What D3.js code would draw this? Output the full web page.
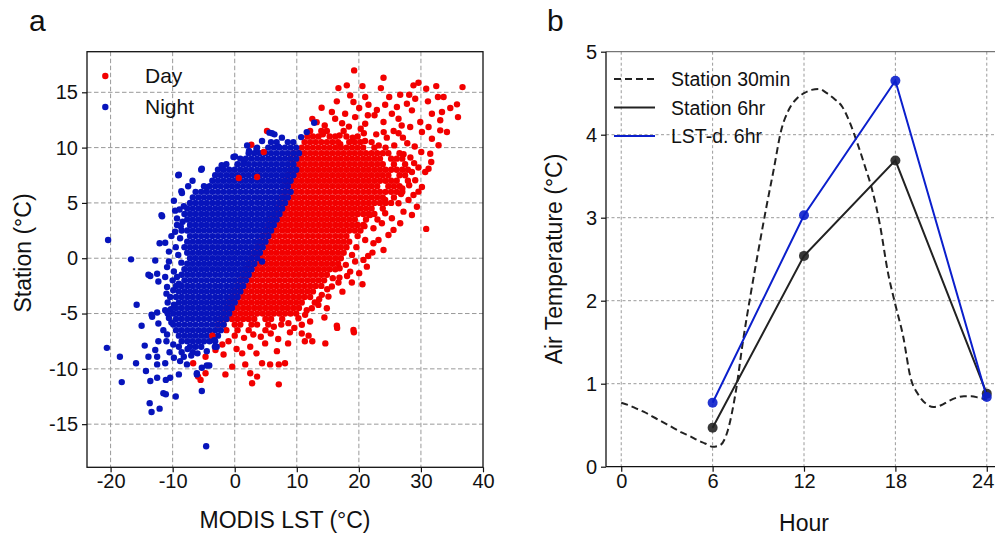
<!DOCTYPE html>
<html>
<head>
<meta charset="utf-8">
<script src="https://cdn.jsdelivr.net/npm/d3@7"></script>
<style>
  body { margin: 0; background: #fff; }
  svg { display: block; font-family: "Liberation Sans", Arial, Helvetica, sans-serif; }
</style>
</head>
<body>
<div id="chart"></div>
<script>
// ---------- panel a : MODIS LST vs station ----------
// dense cores, one row per station value: [station, [lst, lst, ...]]
const nightCoreRows = [
  [10.5,[5.85,6.75,8.55,9.45]],
  [10,[3.6,5.4,6.3,7.2,8.1,9.0,9.9]],
  [9.5,[2.25,3.15,4.05,4.95,5.85,6.75,7.65,8.55,9.45,10.35]],
  [9,[0.9,1.8,2.7,3.6,4.5,5.4,6.3,7.2,8.1,9.0,9.9]],
  [8.5,[-1.35,0.45,1.35,2.25,3.15,4.05,4.95,5.85,6.75,7.65,8.55,9.45]],
  [8,[-2.7,-1.8,-0.9,0,0.9,1.8,2.7,3.6,4.5,5.4,6.3,7.2,8.1,9.0,9.9]],
  [7.5,[-3.15,-2.25,-1.35,-0.45,0.45,1.35,2.25,3.15,4.05,4.95,5.85,6.75,7.65,8.55,9.45]],
  [7,[-3.6,-2.7,-1.8,-0.9,0,0.9,1.8,2.7,3.6,4.5,5.4,6.3,7.2,8.1,9.0]],
  [6.5,[-4.95,-4.05,-3.15,-2.25,-1.35,-0.45,0.45,1.35,2.25,3.15,4.05,4.95,5.85,6.75,7.65,8.55]],
  [6,[-6.3,-5.4,-4.5,-3.6,-2.7,-1.8,-0.9,0,0.9,1.8,2.7,3.6,4.5,5.4,6.3,7.2,8.1,9.0]],
  [5.5,[-6.75,-5.85,-4.95,-4.05,-3.15,-2.25,-1.35,-0.45,0.45,1.35,2.25,3.15,4.05,4.95,5.85,6.75,7.65,8.55]],
  [5,[-7.2,-6.3,-5.4,-4.5,-3.6,-2.7,-1.8,-0.9,0,0.9,1.8,2.7,3.6,4.5,5.4,6.3,7.2,8.1]],
  [4.5,[-7.65,-6.75,-5.85,-4.95,-4.05,-3.15,-2.25,-1.35,-0.45,0.45,1.35,2.25,3.15,4.05,4.95,5.85,6.75,7.65]],
  [4,[-8.1,-7.2,-6.3,-5.4,-4.5,-3.6,-2.7,-1.8,-0.9,0,0.9,1.8,2.7,3.6,4.5,5.4,6.3,7.2]],
  [3.5,[-7.65,-6.75,-5.85,-4.95,-4.05,-3.15,-2.25,-1.35,-0.45,0.45,1.35,2.25,3.15,4.05,4.95,5.85,6.75]],
  [3,[-7.2,-6.3,-5.4,-4.5,-3.6,-2.7,-1.8,-0.9,0,0.9,1.8,2.7,3.6,4.5,5.4,6.3]],
  [2.5,[-8.55,-7.65,-6.75,-5.85,-4.95,-4.05,-3.15,-2.25,-1.35,-0.45,0.45,1.35,2.25,3.15,4.05,4.95,5.85]],
  [2,[-7.2,-6.3,-5.4,-4.5,-3.6,-2.7,-1.8,-0.9,0,0.9,1.8,2.7,3.6,4.5,5.4]],
  [1.5,[-7.65,-6.75,-5.85,-4.95,-4.05,-3.15,-2.25,-1.35,-0.45,0.45,1.35,2.25,3.15,4.05,4.95]],
  [1,[-8.1,-7.2,-6.3,-5.4,-4.5,-3.6,-2.7,-1.8,-0.9,0,0.9,1.8,2.7,3.6,4.5]],
  [0.5,[-7.65,-6.75,-5.85,-4.95,-4.05,-3.15,-2.25,-1.35,-0.45,0.45,1.35,2.25,3.15,4.05]],
  [0,[-7.2,-6.3,-5.4,-4.5,-3.6,-2.7,-1.8,-0.9,0,0.9,1.8,2.7,3.6]],
  [-0.5,[-7.65,-6.75,-5.85,-4.95,-4.05,-3.15,-2.25,-1.35,-0.45,0.45,1.35,2.25,3.15]],
  [-1,[-8.1,-7.2,-6.3,-5.4,-4.5,-3.6,-2.7,-1.8,-0.9,0,0.9,1.8,2.7]],
  [-1.5,[-8.55,-7.65,-6.75,-5.85,-4.95,-4.05,-3.15,-2.25,-1.35,-0.45,0.45,1.35,2.25]],
  [-2,[-8.1,-7.2,-6.3,-5.4,-4.5,-3.6,-2.7,-1.8,-0.9,0,0.9,1.8]],
  [-2.5,[-9.45,-8.55,-7.65,-6.75,-5.85,-4.95,-4.05,-3.15,-2.25,-1.35,-0.45,0.45,1.35]],
  [-3,[-9.0,-8.1,-7.2,-6.3,-5.4,-4.5,-3.6,-2.7,-1.8,-0.9,0,0.9]],
  [-3.5,[-9.45,-8.55,-7.65,-6.75,-5.85,-4.95,-4.05,-3.15,-2.25,-1.35,-0.45,0.45]],
  [-4,[-9.0,-8.1,-7.2,-6.3,-5.4,-4.5,-3.6,-2.7,-1.8,-0.9,0]],
  [-4.5,[-9.45,-8.55,-7.65,-6.75,-5.85,-4.95,-4.05,-3.15,-2.25,-1.35,-0.45]],
  [-5,[-9.9,-9.0,-8.1,-7.2,-6.3,-5.4,-4.5,-3.6,-2.7,-1.8,-0.9]],
  [-5.5,[-9.45,-8.55,-7.65,-6.75,-5.85,-4.95,-4.05,-3.15,-2.25,-1.35]],
  [-6,[-9.9,-9.0,-8.1,-7.2,-6.3,-5.4,-4.5,-3.6,-2.7,-1.8]],
  [-6.5,[-9.45,-8.55,-7.65,-6.75,-5.85,-4.95,-4.05,-3.15,-2.25]],
  [-7,[-9.0,-8.1,-7.2,-6.3,-5.4,-4.5,-3.6,-2.7]],
  [-7.5,[-8.55,-7.65,-6.75,-5.85,-4.95,-4.05,-3.15]],
  [-8,[-9.0,-7.2,-6.3,-5.4]],
  [-8.5,[-8.55,-6.75]]
];

const dayCoreRows = [
  [11.5,[12.15,13.95,14.85,17.55]],
  [11,[11.7,12.6,13.5,15.3,16.2,18.0,19.8]],
  [10.5,[11.25,12.15,13.05,13.95,14.85,15.75,16.65,18.45,19.35,20.25,22.05]],
  [10,[10.8,11.7,12.6,13.5,14.4,15.3,16.2,17.1,18.0,18.9,19.8,20.7,22.5,24.3]],
  [9.5,[9.45,10.35,11.25,12.15,13.05,13.95,14.85,15.75,16.65,17.55,18.45,19.35,20.25,21.15,22.05,22.95,23.85,24.75,26.55]],
  [9,[9.0,9.9,10.8,11.7,12.6,13.5,14.4,15.3,16.2,17.1,18.0,18.9,19.8,20.7,21.6,22.5,23.4,25.2,26.1,27.0]],
  [8.5,[9.45,10.35,11.25,12.15,13.05,13.95,14.85,15.75,16.65,17.55,18.45,19.35,20.25,21.15,22.05,22.95,23.85,25.65,27.45]],
  [8,[9.0,9.9,10.8,11.7,12.6,13.5,14.4,15.3,16.2,17.1,18.0,18.9,19.8,20.7,21.6,22.5,23.4,24.3,25.2,26.1,27.0,27.9]],
  [7.5,[8.55,9.45,10.35,11.25,12.15,13.05,13.95,14.85,15.75,16.65,17.55,18.45,19.35,20.25,21.15,22.05,22.95,23.85,24.75,26.55,27.45]],
  [7,[8.1,9.0,9.9,10.8,11.7,12.6,13.5,14.4,15.3,16.2,17.1,18.0,18.9,19.8,20.7,21.6,22.5,23.4,24.3,25.2,26.1,27.9]],
  [6.5,[8.55,9.45,10.35,11.25,12.15,13.05,13.95,14.85,15.75,16.65,17.55,18.45,19.35,20.25,21.15,22.05,22.95,24.75,25.65,26.55]],
  [6,[8.1,9.0,9.9,10.8,11.7,12.6,13.5,14.4,15.3,16.2,17.1,18.0,18.9,19.8,20.7,21.6,22.5,23.4,24.3,25.2,26.1,27.0]],
  [5.5,[7.65,8.55,9.45,10.35,11.25,12.15,13.05,13.95,14.85,15.75,16.65,17.55,18.45,19.35,20.25,21.15,22.05,22.95,23.85,25.65]],
  [5,[7.2,8.1,9.0,9.9,10.8,11.7,12.6,13.5,14.4,15.3,16.2,17.1,18.0,18.9,19.8,20.7,21.6,22.5,23.4,24.3,25.2]],
  [4.5,[6.75,7.65,8.55,9.45,10.35,11.25,12.15,13.05,13.95,14.85,15.75,16.65,17.55,18.45,19.35,20.25,21.15,22.05,23.85]],
  [4,[6.3,7.2,8.1,9.0,9.9,10.8,11.7,12.6,13.5,14.4,15.3,16.2,17.1,18.0,18.9,19.8,20.7,21.6,22.5]],
  [3.5,[5.85,6.75,7.65,8.55,9.45,10.35,11.25,12.15,13.05,13.95,14.85,15.75,16.65,17.55,18.45,19.35,21.15]],
  [3,[5.4,6.3,7.2,8.1,9.0,9.9,10.8,11.7,12.6,13.5,14.4,15.3,16.2,17.1,18.0,18.9,19.8,20.7]],
  [2.5,[4.95,5.85,6.75,7.65,8.55,9.45,10.35,11.25,12.15,13.05,13.95,14.85,15.75,16.65,17.55,18.45,19.35,20.25]],
  [2,[4.5,5.4,6.3,7.2,8.1,9.0,9.9,10.8,11.7,12.6,13.5,14.4,15.3,16.2,17.1,18.0,19.8]],
  [1.5,[4.05,4.95,5.85,6.75,7.65,8.55,9.45,10.35,11.25,12.15,13.05,13.95,14.85,15.75,16.65,17.55,18.45]],
  [1,[3.6,4.5,5.4,6.3,7.2,8.1,9.0,9.9,10.8,11.7,12.6,13.5,14.4,15.3,16.2,17.1,18.0]],
  [0.5,[3.15,4.05,4.95,5.85,6.75,7.65,8.55,9.45,10.35,11.25,12.15,13.05,13.95,14.85,15.75,16.65,17.55]],
  [0,[2.7,3.6,4.5,5.4,6.3,7.2,8.1,9.0,9.9,10.8,11.7,12.6,13.5,14.4,15.3,16.2,17.1]],
  [-0.5,[2.25,3.15,4.05,4.95,5.85,6.75,7.65,8.55,9.45,10.35,11.25,12.15,13.05,13.95,14.85,15.75,16.65]],
  [-1,[1.8,2.7,3.6,4.5,5.4,6.3,7.2,8.1,9.0,9.9,10.8,11.7,12.6,13.5,14.4,15.3,16.2]],
  [-1.5,[1.35,2.25,3.15,4.05,4.95,5.85,6.75,7.65,8.55,9.45,10.35,11.25,12.15,13.05,13.95,14.85]],
  [-2,[0.9,1.8,2.7,3.6,4.5,5.4,6.3,7.2,8.1,9.0,9.9,10.8,11.7,12.6,13.5,14.4]],
  [-2.5,[0.45,1.35,2.25,3.15,4.05,4.95,5.85,6.75,7.65,8.55,9.45,10.35,11.25,12.15,13.05,13.95]],
  [-3,[0,0.9,1.8,2.7,3.6,4.5,5.4,6.3,7.2,8.1,9.0,9.9,10.8,11.7,12.6]],
  [-3.5,[-0.45,0.45,1.35,2.25,3.15,4.05,4.95,5.85,6.75,7.65,8.55,9.45,10.35,11.25,12.15]],
  [-4,[-0.9,0,0.9,1.8,2.7,3.6,4.5,5.4,6.3,7.2,8.1,9.0,9.9,10.8]],
  [-4.5,[-1.35,-0.45,0.45,1.35,2.25,3.15,4.05,4.95,5.85,6.75,7.65,8.55,9.45,10.35]],
  [-5,[-1.8,-0.9,0,0.9,1.8,2.7,3.6,4.5,5.4,6.3,7.2,8.1,9.0,9.9]],
  [-5.5,[-2.25,-1.35,-0.45,0.45,1.35,2.25,3.15,4.95,5.85,7.65]],
  [-6,[-2.7,-1.8,0,0.9,2.7,3.6,5.4]],
  [-6.5,[-1.35,0.45,2.25,4.95]]
];

// scattered points around the cores: [lst, station]
const dayScatter = [
  [19.24,16.98],[23.97,16.31],[18.06,15.63],[16.71,15.38],[20.58,15.56],[23.55,15.38],[28.8,15.63],[29.6,15.86],
  [32.47,15.56],[36.7,15.47],[30.85,15.32],[16.45,14.18],[18.6,14.72],[21.02,14.57],[19.13,14.12],[24.89,14.57],
  [26.66,14.78],[28.11,14.78],[29.08,14.42],[27.74,13.97],[26.13,13.67],[24.24,13.88],[25.32,13.06],[31.13,14.18],
  [32.74,14.57],[33.65,14.57],[35.81,13.91],[34.73,13.58],[35.97,12.76],[33.39,13.22],[31.77,13.06],[21.55,13.88],
  [20.05,13.58],[22.52,12.92],[21.45,12.92],[15.65,13.22],[17.79,13.06],[16.18,12.61],[19.4,12.76],[21.02,12.16],
  [23.97,12.31],[26.39,12.61],[28.55,13.37],[29.89,12.31],[31.23,11.86],[33.11,12.47],[33.11,11.56],[34.19,11.41],
  [31.77,10.8],[30.16,11.41],[28.27,11.86],[32.84,10.21],[31.5,9.45],[30.05,9.6],[31.66,8.7],[31.23,8.09],
  [29.08,7.05],[30.69,7.8],[28.55,7.8],[30.16,6.44],
  [13.2,12.3],[14.5,12.0],[17.3,12.2],[18.4,11.9],[20.3,11.7],[22.8,11.2],[24.5,10.9],[25.6,11.5],[26.4,11.3],
  [27.1,10.9],[27.8,10.4],[29.0,10.1],[26.9,12.0],[24.0,11.4],[12.5,12.6],[14.0,13.6],[22.9,13.4],[27.2,9.4],
  [28.3,9.1],[28.9,8.6],[29.6,8.2],[27.0,6.3],[28.1,6.6],[26.8,5.8],
  [16.9,11.1],[19.0,10.9],[21.0,10.6],[23.2,10.2],[25.7,10.2],[20.8,11.3],[14.2,11.2],[17.0,10.3],
  [30.85,2.65],[29.35,4.66],[28.55,3.91],[27.19,4.21],[26.66,3.16],[25.58,2.56],[24.24,4.06],[23.97,0.75],
  [22.19,0.51],[23.16,1.65],[22.35,2.71],[21.02,1.65],[20.74,-0.15],[20.58,-2.35],[20.05,-1.35],[18.87,-2.2],
  [18.6,-1.21],[19.4,-0.3],[17.35,-3.02],[16.71,-2.2],[16.87,-1.75],[15.65,-2.56],[15.1,-3.47],[14.03,-3.31],
  [14.84,-4.52],[13.48,-4.22],[12.42,-4.52],[11.34,-5.12],[12.15,-5.72],[14.45,-5.36],[10.26,-5.42],[10.81,-6.02],
  [16.45,-6.11],[8.65,-5.87],[19.13,-6.48],[21.29,-0.76],[22.35,1.35],[24.24,5.27],[26.39,4.97],[28.0,5.27],
  [28.8,5.72],[29.6,6.02],[25.32,3.61],[23.71,3.16],[24.77,2.1],
  [21.8,3.9],[23.0,3.5],[20.9,2.9],[21.5,0.2],[19.6,1.0],[18.9,0.3],[17.9,-0.6],[16.9,-0.9],[18.1,-1.6],
  [15.8,-1.8],[14.9,-2.8],[13.6,-3.7],[12.9,-4.0],[11.6,-4.7],
  [-4.7,-8.9],[-5.5,-11],[-4.7,-10.4],[-3.1,-8.3],[-1.5,-10.5],[-0.4,-9.8],[-1.8,-8.7],[-1,-7.5],[1.7,-9.6],
  [2.5,-10.4],[2.8,-11.3],[3.6,-10.7],[4.4,-9.5],[5.7,-9.6],[7.1,-11.4],[7.1,-9.6],[6.8,-8.4],[4.9,-7.7],
  [2.5,-8],[1.2,-8.6],[8.1,-9.5],[8.6,-7.7],[11.3,-7.5],[12.5,-7.5],[11.9,-7],[14.6,-7.7],[19.2,-6.7],
  [16.5,-6.3],[8.9,-6.7],[10.8,-6.8],[-6.7,-9.5],[-5.9,-10.7],[0,-7],[1.5,-7.2],[3,-6.9],[4.2,-7.1],
  [5.8,-6.8],[7,-7.3],[-2,-7.8],[-3.6,-7],[6.3,-6.2],[7.5,-6.0],[9.6,-6.3],[3.5,-8.6],[0.3,-8.2],
  [2.68,10.26],[4.68,9.6],[0.65,7.25],[3.6,7.34],[5.2,11.5]
];

const nightScatter = [
  [12.8,12.25],[11.6,11.4],[10.7,10.95],[5.6,11.35],[6.0,11.3],[6.4,11.2],[7.0,10.1],[3.5,9.9],[2.3,9.7],
  [1.5,8.85],[-0.2,9.15],[0.05,9.2],[-2.0,8.3],[-2.1,8.4],[-5.4,8.0],[-5.3,8.1],[-9.0,7.55],[-9.1,7.5],
  [-8.6,6.05],[-8.5,5.9],[-4.5,6.4],[-6.8,7.0],[-7.5,6.5],[-11.8,3.9],[-8.2,4.7],[-11.7,3.8],[-20.4,1.65],
  [-9.3,3.6],[-9.3,3.0],[-9.6,2.4],[-11.2,1.4],[-10.6,0.6],[-8.8,1.8],[-16.7,-0.1],[-12.8,-0.2],[-10.6,-0.3],
  [-10.9,-0.8],[-13.6,-1.6],[-12.5,-1.4],[-11.2,-1.7],[-12.3,-2.1],[-10.9,-2.6],[-10.4,-3.5],[-15.8,-4.2],
  [-12.5,-4.9],[-13.3,-5.3],[-11.2,-4.7],[-15,-6.1],[-12.3,-5.9],[-10.6,-5.4],[-20.6,-8.1],[-18.5,-8.9],
  [-18.2,-11.2],[-15.9,-9.5],[-13.9,-1.5],[-12.1,1.35],[-13.4,-5.1],[-13.7,-13.1],[-13.4,-13.9],[-12.1,-13.6],
  [-11.5,-12.2],[-9.5,-12.5],[-5.3,-12],[-4.6,-17],[-13.6,-11.1],[-12.5,-10.8],[-11.1,-11],[-10.4,-10.8],
  [-9.0,-10.5],[-14.3,-10.2],[-12.5,-9.6],[-11.2,-9.5],[-14.5,-7.9],[-13.9,-8.9],[-12.5,-8.9],[-12.8,-8.3],
  [-12.3,-7.5],[-10.9,-6.9],[-7.7,-9.6],[-6.1,-10.5],[-5.3,-9.9],[-4.1,-9.7],[-8.8,-9.3],[-11.1,-12.3],
  [-9.5,1.0],[-9.8,-1.2],[-10.0,-2.0],[-11.0,-3.2],[-10.8,-4.0],[-11.5,-6.5],[-11.0,-7.5],[-10.5,-8.5],
  [-9.8,-9.0],[-7.0,-8.8],[-6.0,-8.6],[-4.5,-8.4],[-3.2,-8.0],[-9.6,4.3],[-10.2,2.0],[-9.8,5.2],[-2.9,-8.0],
  [-6.1,-10.4],[-4.5,-9.7],[4.4,-0.3],[-3.3,-7.4],[-7.6,-8.2],[-8.2,-8.9],
  [-8.9,4.4],[-8.7,2.9],[-9.1,0.3],[-9.3,-1.7],[-9.9,-2.9],[-10.3,-4.6],[-10.8,-5.0],[-9.9,-7.8],
  [-8.4,3.3],[-8.6,-0.4],[-9.0,-2.3],[-9.8,-4.2],[-10.2,-5.8],[4.4,10.6],[2.0,10.2],[7.6,10.9]
];

const lstTicks = [-20, -10, 0, 10, 20, 30, 40];
const stationTicks = [-15, -10, -5, 0, 5, 10, 15];

// ---------- panel b : diurnal air temperature ----------
const halfHours = [0,0.5,1,1.5,2,2.5,3,3.5,4,4.5,5,5.5,6,6.5,7,7.5,8,8.5,9,9.5,10,10.5,11,11.5,12,
  12.5,13,13.5,14,14.5,15,15.5,16,16.5,17,17.5,18,18.5,19,19.5,20,20.5,21,21.5,22,22.5,23,23.5,24];
const station30min = [0.77,0.74,0.70,0.66,0.61,0.56,0.51,0.46,0.41,0.37,0.32,0.28,0.24,0.26,0.44,0.88,1.52,2.08,
  2.6,3.1,3.57,4.05,4.3,4.43,4.5,4.54,4.55,4.5,4.43,4.34,4.15,3.9,3.62,3.32,2.9,2.35,1.95,1.58,1.07,0.87,0.76,
  0.72,0.74,0.79,0.83,0.85,0.85,0.83,0.81];
const sixHours = [6, 12, 18, 24];
const station6hr = [0.47, 2.54, 3.69, 0.88];
const lst6hr = [0.77, 3.03, 4.65, 0.84];

const hourTicks = [0, 6, 12, 18, 24];
const tempTicks = [0, 1, 2, 3, 4, 5];

const RED = "#f20000", NAVY = "#0714bb", BLUE = "#0b1fcc", BLACK = "#222";

const svg = d3.select("#chart").append("svg")
  .attr("width", 995).attr("height", 537);

// ================= panel a =================
const xA = d3.scaleLinear().domain([-23.8, 40]).range([87, 483]);
const yA = d3.scaleLinear().domain([-18.9, 18.67]).range([467.3, 51.7]);

const gridA = svg.append("g")
  .attr("stroke", "#999").attr("stroke-width", 1).attr("stroke-dasharray", "4.5,2.5");
gridA.selectAll(".v").data(lstTicks.filter(d => d < 40)).join("line")
  .attr("x1", d => xA(d)).attr("x2", d => xA(d)).attr("y1", 51.7).attr("y2", 467.3);
gridA.selectAll(".h").data(stationTicks).join("line")
  .attr("y1", d => yA(d)).attr("y2", d => yA(d)).attr("x1", 87).attr("x2", 483);

const toPoints = rows => rows.flatMap(([y, xs]) => xs.map(x => [x, y]));
const dots = (g, pts, color) => g.selectAll(null).data(pts).join("circle")
  .attr("cx", d => xA(d[0])).attr("cy", d => yA(d[1])).attr("r", 3.2).attr("fill", color);

const scatter = svg.append("g");
dots(scatter.append("g"), toPoints(dayCoreRows), RED);
dots(scatter.append("g"), toPoints(nightCoreRows), NAVY);
dots(scatter.append("g"), dayScatter, RED);
dots(scatter.append("g"), nightScatter, NAVY);

svg.append("rect").attr("x", 87).attr("y", 51.7).attr("width", 396).attr("height", 415.6)
  .attr("fill", "none").attr("stroke", "#111").attr("stroke-width", 1.3);

const axA_x = svg.append("g").attr("transform", "translate(0,467.3)")
  .call(d3.axisBottom(xA).tickValues(lstTicks).tickSize(5).tickPadding(2).tickFormat(d => String(d)));
const axA_y = svg.append("g").attr("transform", "translate(87,0)")
  .call(d3.axisLeft(yA).tickValues(stationTicks).tickSize(5).tickPadding(4).tickFormat(d => String(d)));
[axA_x, axA_y].forEach(a => {
  a.select(".domain").remove();
  a.selectAll("line").attr("stroke", "#111").attr("stroke-width", 1.2);
  a.selectAll("text").attr("font-size", 20).attr("fill", "#111").attr("font-family", null);
});

svg.append("text").attr("x", 285).attr("y", 528).attr("text-anchor", "middle")
  .attr("font-size", 23).attr("fill", "#111").text("MODIS LST (°C)");
svg.append("text").attr("transform", "translate(31,253) rotate(-90)").attr("text-anchor", "middle")
  .attr("font-size", 23).attr("fill", "#111").text("Station (°C)");
svg.append("text").attr("x", 29).attr("y", 31).attr("font-size", 30).attr("fill", "#111").text("a");

const legA = [{label: "Day", color: RED, y: 76}, {label: "Night", color: NAVY, y: 107}];
legA.forEach(d => {
  svg.append("circle").attr("cx", 105.3).attr("cy", d.y).attr("r", 3.2).attr("fill", d.color);
  svg.append("text").attr("x", 145).attr("y", d.y + 7).attr("font-size", 21).attr("fill", "#111").text(d.label);
});

// ================= panel b =================
const xB = d3.scaleLinear().domain([-1, 25]).range([606, 1002]);
const yB = d3.scaleLinear().domain([0, 5]).range([466.7, 51.7]);

const gridB = svg.append("g")
  .attr("stroke", "#9a9a9a").attr("stroke-width", 1).attr("stroke-dasharray", "3,2.5");
gridB.selectAll(".v").data(hourTicks).join("line")
  .attr("x1", d => xB(d)).attr("x2", d => xB(d)).attr("y1", 51.7).attr("y2", 466.7);
gridB.selectAll(".h").data(tempTicks.filter(d => d > 0 && d < 5)).join("line")
  .attr("y1", d => yB(d)).attr("y2", d => yB(d)).attr("x1", 606).attr("x2", 1002);

svg.append("line").attr("x1", 606).attr("x2", 1002).attr("y1", 51.7).attr("y2", 51.7)
  .attr("stroke", "#555").attr("stroke-width", 1);

const dashData = halfHours.map((h, i) => [h, station30min[i]]);
const st6Data = sixHours.map((h, i) => [h, station6hr[i]]);
const lstData = sixHours.map((h, i) => [h, lst6hr[i]]);

svg.append("path").datum(dashData)
  .attr("d", d3.line().x(d => xB(d[0])).y(d => yB(d[1])).curve(d3.curveMonotoneX))
  .attr("fill", "none")
  .attr("stroke", BLACK).attr("stroke-width", 2).attr("stroke-dasharray", "7,4");

const series = [{data: st6Data, color: BLACK}, {data: lstData, color: BLUE}];
series.forEach(s => {
  svg.append("path").datum(s.data).attr("d", d3.line().x(d => xB(d[0])).y(d => yB(d[1])))
    .attr("fill", "none").attr("stroke", s.color).attr("stroke-width", 2);
  svg.append("g").selectAll("circle").data(s.data).join("circle")
    .attr("cx", d => xB(d[0])).attr("cy", d => yB(d[1])).attr("r", 5)
    .attr("fill", s.color).attr("fill-opacity", 0.9);
});

const axB_x = svg.append("g").attr("transform", "translate(0,466.7)")
  .call(d3.axisBottom(xB).tickValues(hourTicks).tickSize(5).tickPadding(2).tickFormat(d => String(d)));
const axB_y = svg.append("g").attr("transform", "translate(606,0)")
  .call(d3.axisLeft(yB).tickValues(tempTicks).tickSize(5).tickPadding(4).tickFormat(d => String(d)));
[axB_x, axB_y].forEach(a => {
  a.select(".domain").attr("stroke", "#111").attr("stroke-width", 1.3);
  a.selectAll("line").attr("stroke", "#111").attr("stroke-width", 1.2);
  a.selectAll("text").attr("font-size", 20).attr("fill", "#111").attr("font-family", null);
});
axB_x.select(".domain").attr("d", "M606,0H1002");
axB_y.select(".domain").attr("d", "M0,51.7V466.7");
// keep the last hour label inside the window
axB_x.selectAll(".tick text").filter(d => d === 24).attr("text-anchor", "end").attr("dx", 7);

svg.append("text").attr("x", 804).attr("y", 531).attr("text-anchor", "middle")
  .attr("font-size", 23).attr("fill", "#111").text("Hour");
svg.append("text").attr("transform", "translate(562,259) rotate(-90)").attr("text-anchor", "middle")
  .attr("font-size", 23).attr("fill", "#111").text("Air Temperature (°C)");
svg.append("text").attr("x", 547).attr("y", 31).attr("font-size", 30).attr("fill", "#111").text("b");

const legB = [
  {label: "Station 30min", color: BLACK, dash: "7,4", y: 79},
  {label: "Station 6hr", color: BLACK, dash: null, y: 107.5},
  {label: "LST-d. 6hr", color: BLUE, dash: null, y: 136}
];
legB.forEach(d => {
  svg.append("line").attr("x1", 614).attr("x2", 655).attr("y1", d.y).attr("y2", d.y)
    .attr("stroke", d.color).attr("stroke-width", 2).attr("stroke-dasharray", d.dash);
  svg.append("text").attr("x", 671).attr("y", d.y + 7.3).attr("font-size", 19.5)
    .attr("fill", "#111").text(d.label);
});
</script>
</body>
</html>
